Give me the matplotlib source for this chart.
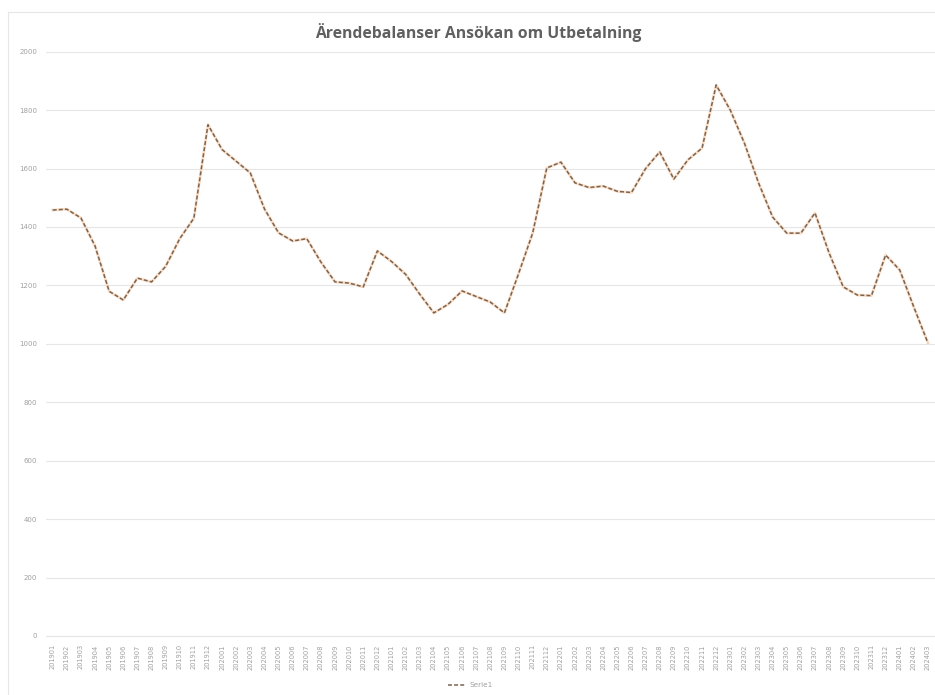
import matplotlib
matplotlib.use('Agg')
import matplotlib.pyplot as plt
from matplotlib.lines import Line2D

# Data
months = [f'{y}{m:02d}' for y in range(2019, 2025) for m in range(1, 13)][:63]
balans = [1458, 1461, 1431, 1335, 1180, 1150, 1225, 1212, 1265, 1360,
          1430, 1750, 1665, 1625, 1585, 1462, 1380, 1352, 1360, 1280,
          1212, 1208, 1195, 1318, 1282, 1238, 1170, 1106, 1135, 1181,
          1162, 1143, 1106, 1240, 1379, 1602, 1622, 1551, 1535, 1540,
          1522, 1518, 1600, 1657, 1564, 1630, 1670, 1886, 1800, 1687,
          1551, 1434, 1379, 1379, 1448, 1311, 1195, 1167, 1165, 1304,
          1253, 1126, 1003]
yticks = list(range(0, 2001, 200))

C_TEXT = '#606060'
C_TICK = '#a0a0a0'
C_GRID = '#e6e6e6'
C_DASH = '#7a6450'
C_GLOW = '#f8cfb0'

fig = plt.figure(figsize=(9.35, 6.95), dpi=100)
fig.patch.set_facecolor('white')
ax = fig.add_axes([0.0488, 0.0849, 0.9512, 0.8407])

x = list(range(len(months)))
ax.plot(x, balans, color=C_GLOW, lw=2.0, alpha=0.7, zorder=2)
ax.plot(x, balans, color=C_DASH, lw=1.1, linestyle=(0, (2.6, 1.4)), zorder=3,
        label='Serie1')

ax.set_xlim(-0.5, len(months) - 0.5)
ax.set_ylim(0, 2000)
ax.set_yticks(yticks)
ax.set_yticklabels([str(v) for v in yticks], fontsize=5, color=C_TICK)
ax.set_xticks(x)
ax.set_xticklabels(months, rotation=90, fontsize=4.8, color=C_TICK)
ax.tick_params(length=0, pad=6)
ax.grid(axis='y', color=C_GRID, lw=0.8)
ax.set_axisbelow(True)
for s in ax.spines.values():
    s.set_visible(False)
ax.spines['bottom'].set_visible(True)
ax.spines['bottom'].set_color(C_GRID)

# chart area border
fig.add_artist(Line2D([8 / 935, 8 / 935], [0, 1 - 12 / 695],
                      transform=fig.transFigure, color=C_GRID, lw=0.8))
fig.add_artist(Line2D([8 / 935, 1], [1 - 12 / 695, 1 - 12 / 695],
                      transform=fig.transFigure, color=C_GRID, lw=0.8))

fig.text(0.512, 0.9525, 'Ärendebalanser Ansökan om Utbetalning',
         ha='center', va='center', fontsize=11.3, fontweight='bold',
         color=C_TEXT, family='Open Sans')

handle = Line2D([], [], color=C_DASH, lw=1.1, linestyle=(0, (2.6, 1.4)))
fig.legend([handle], ['Serie1'], loc='center', bbox_to_anchor=(0.503, 0.014),
           frameon=False, fontsize=5.2, labelcolor=C_TICK,
           handlelength=2.5, handletextpad=0.4)

fig.savefig('out.png', dpi=100, facecolor='white')
